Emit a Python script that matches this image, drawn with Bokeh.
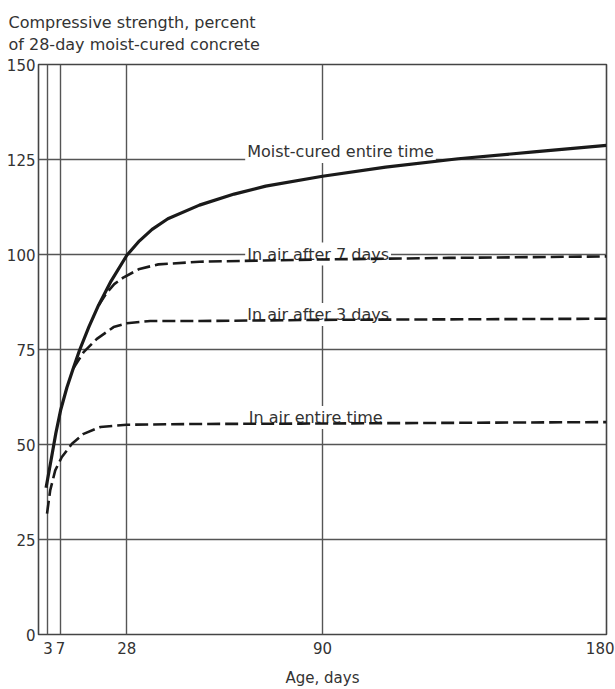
from bokeh.plotting import figure
from bokeh.models import Range1d, FixedTicker
from bokeh.core.properties import value
from bokeh.embed import file_html
from bokeh.resources import INLINE

# ---- data ----
title_lines = ["Compressive strength, percent", "of 28-day moist-cured concrete"]
x_axis_label = "Age, days"
x_ticks = [3, 7, 28, 90, 180]
y_ticks = [0, 25, 50, 75, 100, 125, 150]
x_grid = [3, 7, 28, 90]
y_grid = [25, 50, 75, 100, 125]

moist_days = [2.4, 4, 5.5, 7, 9, 11, 13, 16, 19, 23, 28, 32, 36, 41, 51, 62, 72, 90, 110, 133, 157, 180]
moist_vals = [38.6, 46, 53, 59, 65, 70, 74.8, 81, 86.6, 93, 99.8, 103.6, 106.6, 109.4, 113, 115.9, 118, 120.6, 123, 125.2, 127, 128.7]

air7_days = [19, 21.7, 24, 27, 32, 38, 51, 90, 130, 180]
air7_vals = [86.6, 90, 92.2, 94, 96.2, 97.4, 98.1, 98.7, 99.1, 99.5]

air3_days = [11, 14.3, 18.5, 23.8, 28, 35.4, 51, 90, 180]
air3_vals = [70, 74.3, 77.8, 80.9, 81.9, 82.5, 82.5, 82.8, 83.1]

airall_days = [2.7, 3.7, 5.3, 7.4, 10.6, 14.3, 19.6, 28, 50, 83, 180]
airall_vals = [31.8, 37.9, 43.2, 46.7, 50.2, 52.8, 54.6, 55.2, 55.4, 55.5, 55.9]

series_labels = ["Moist-cured entire time", "In air after 7 days", "In air after 3 days", "In air entire time"]
label_x = [65.5, 65.5, 65.5, 66]
label_y = [127.1, 100.1, 84.2, 57.1]

FONT = "DejaVu Sans"
TXT = "#333333"
GRID = "#555555"

p = figure(width=615, height=689, x_range=Range1d(0, 180), y_range=Range1d(0, 150),
           output_backend="svg", toolbar_location=None,
           min_border_left=38, min_border_right=9, min_border_top=64, min_border_bottom=55)
p.background_fill_color = "white"
p.border_fill_color = "white"
p.outline_line_color = "#444444"
p.outline_line_width = 1.6

# The x tick labels use a slightly shifted copy of the day range so that the last
# label ("180") sits just inside the right edge, as in the original drawing.
SHIFT = 2
p.extra_x_ranges = {"lab": Range1d(SHIFT, 180 + SHIFT)}
xax = p.xaxis[0]
xax.x_range_name = "lab"
lab_pos = [t + SHIFT for t in x_ticks[:-1]] + [x_ticks[-1]]
xax.ticker = FixedTicker(ticks=lab_pos)
xax.major_label_overrides = {pos: str(t) for pos, t in zip(lab_pos, x_ticks)}

for ax in (p.xaxis[0], p.yaxis[0]):
    ax.axis_line_color = None
    ax.major_tick_line_color = None
    ax.minor_tick_line_color = None
    ax.major_tick_out = 0
    ax.major_tick_in = 0
    ax.minor_tick_out = 0
    ax.minor_tick_in = 0
    ax.major_label_text_font = FONT
    ax.major_label_text_color = TXT
    ax.major_label_text_font_size = "15px"

xax.major_label_standoff = 7
xax.axis_label = x_axis_label
xax.axis_label_text_font = FONT
xax.axis_label_text_font_style = "normal"
xax.axis_label_text_font_size = "15px"
xax.axis_label_text_color = TXT
xax.axis_label_standoff = 12

p.yaxis.ticker = FixedTicker(ticks=y_ticks)
p.yaxis.major_label_standoff = 3

p.xgrid.ticker = FixedTicker(ticks=x_grid)
p.ygrid.ticker = FixedTicker(ticks=y_grid)
for g in (p.xgrid[0], p.ygrid[0]):
    g.grid_line_color = GRID
    g.grid_line_width = 1.4

# two-line heading over the y axis
p.title.text = "\n".join(title_lines)
p.title.align = "left"
p.title.offset = -30
p.title.standoff = 20
p.title.text_line_height = 1.18
p.title.text_font = FONT
p.title.text_font_style = "normal"
p.title.text_font_size = "16px"
p.title.text_color = TXT

# curve labels (white box breaks the grid lines behind them)
p.text(x=label_x, y=label_y, text=series_labels, text_font=value(FONT), text_font_size="16px",
       text_color=TXT, text_baseline="alphabetic", text_align="left",
       background_fill_color="white", padding=2)

p.line(moist_days, moist_vals, line_color="#1a1a1a", line_width=3.2)
p.line(air7_days, air7_vals, line_color="#1a1a1a", line_width=2.6, line_dash="13 5")
p.line(air3_days, air3_vals, line_color="#1a1a1a", line_width=2.6, line_dash="13 5")
p.line(airall_days, airall_vals, line_color="#1a1a1a", line_width=2.6, line_dash="13 5")

open("out.html", "w").write(file_html(p, INLINE))
